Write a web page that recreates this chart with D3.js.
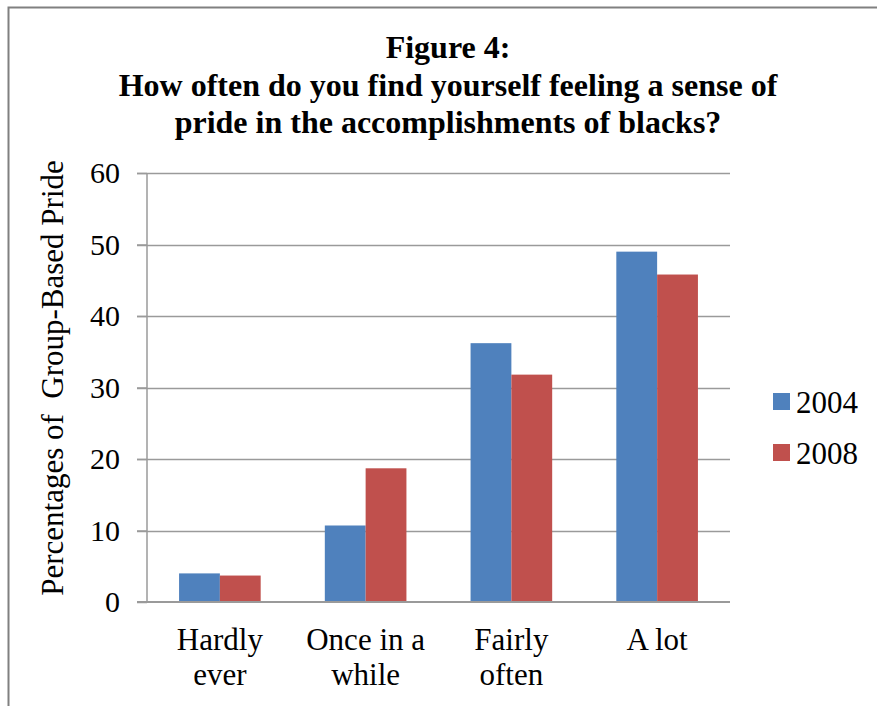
<!DOCTYPE html>
<html>
<head>
<meta charset="utf-8">
<script src="https://cdn.jsdelivr.net/npm/d3@7"></script>
<style>
  body { margin: 0; background: white; }
  svg text { font-family: "Liberation Serif", "Tinos", "Times New Roman", "DejaVu Serif", serif !important; fill: #000; }
</style>
</head>
<body>
<svg width="877" height="706"></svg>
<script>
// data
var categories = [["Hardly", "ever"], ["Once in a", "while"], ["Fairly", "often"], ["A lot"]];
var series = ["2004", "2008"];
var values2004 = [4.0, 10.7, 36.2, 49.0];
var values2008 = [3.7, 18.7, 31.8, 45.8];
var yTicks = [0, 10, 20, 30, 40, 50, 60];
var colors = ["#4F81BD", "#C0504D"];

var serif = '"Liberation Serif", "Tinos", "Times New Roman", "DejaVu Serif", serif';

var svg = d3.select("svg")
        .attr("font-family", serif),
    width = +svg.attr("width"),
    height = +svg.attr("height");

// outer frame (runs off the right and bottom edges)
svg.append("path")
    .attr("d", "M8.5,720 L8.5,7.5 L890,7.5")
    .style("fill", "none")
    .style("stroke", "#808080")
    .style("stroke-width", 2);

// title
var titleLines = ["Figure 4:", "How often do you find yourself feeling a sense of", "pride in the accomplishments of blacks?"];
svg.append("g").selectAll("text")
    .data(titleLines).enter()
    .append("text")
    .attr("x", 448)
    .attr("y", function(d, i) { return 58 + i * 37.5; })
    .attr("text-anchor", "middle")
    .attr("font-size", 32)
    .attr("font-weight", "bold")
    .text(function(d) { return d; });

var plot = {left: 147, right: 730, top: 173, bottom: 602};

var x0 = d3.scaleBand()
    .domain(d3.range(categories.length))
    .range([plot.left, plot.right])
    .paddingInner(0.44)
    .paddingOuter(0.22);

var x1 = d3.scaleBand()
    .domain(series)
    .range([0, x0.bandwidth()]);

var y = d3.scaleLinear()
    .domain([0, 60])
    .range([plot.bottom, plot.top]);

// gridlines
svg.append("g").selectAll("line")
    .data(yTicks.filter(function(d) { return d > 0; })).enter()
    .append("line")
    .attr("x1", plot.left - 10)
    .attr("x2", plot.right)
    .attr("y1", function(d) { return Math.round(y(d)) + 0.5; })
    .attr("y2", function(d) { return Math.round(y(d)) + 0.5; })
    .style("stroke", "#9A9A9A")
    .style("stroke-width", 1.5);

// bars
var rows = categories.map(function(c, i) {
    return [values2004[i], values2008[i]];
});

var groups = svg.append("g").selectAll("g")
    .data(rows).enter()
    .append("g")
    .attr("transform", function(d, i) { return "translate(" + x0(i) + ",0)"; });

groups.selectAll("rect")
    .data(function(d) { return d.map(function(v, j) { return {s: series[j], v: v, j: j}; }); })
    .enter()
    .append("rect")
    .attr("x", function(d) { return x1(d.s); })
    .attr("width", x1.bandwidth())
    .attr("y", function(d) { return y(d.v); })
    .attr("height", function(d) { return y(0) - y(d.v); })
    .style("fill", function(d) { return colors[d.j]; });

// y axis
var yAxis = d3.axisLeft(y)
    .tickValues(yTicks)
    .tickSize(10)
    .tickPadding(17);

var ya = svg.append("g")
    .attr("transform", "translate(" + plot.left + ",0)")
    .call(yAxis)
    .attr("font-family", serif);
ya.select(".domain").style("stroke", "#9A9A9A").style("stroke-width", 1.5)
    .attr("d", "M0," + plot.top + "V" + plot.bottom);
ya.selectAll(".tick line").style("stroke", "#9A9A9A").style("stroke-width", 1.5);
ya.selectAll(".tick text")
    .attr("font-size", 30)
    .style("fill", "#000")
    .attr("dy", "0.33em");

// baseline
svg.append("line")
    .attr("x1", plot.left - 10)
    .attr("x2", plot.right)
    .attr("y1", y(0))
    .attr("y2", y(0))
    .style("stroke", "#9A9A9A")
    .style("stroke-width", 2);

// category labels
var xl = svg.append("g").selectAll("text")
    .data(categories).enter()
    .append("text")
    .attr("text-anchor", "middle")
    .attr("font-size", 31)
    .attr("transform", function(d, i) {
        return "translate(" + (x0(i) + x0.bandwidth() / 2) + "," + 650 + ")";
    });
xl.selectAll("tspan")
    .data(function(d) { return d; }).enter()
    .append("tspan")
    .attr("x", 0)
    .attr("y", function(d, i) { return i * 35; })
    .text(function(d) { return d; });

// y axis title
svg.append("text")
    .attr("transform", "translate(63," + 378 + ") rotate(-90)")
    .attr("text-anchor", "middle")
    .attr("font-size", 31)
    .attr("xml:space", "preserve")
    .style("white-space", "pre")
    .text("Percentages of  Group-Based Pride");

// legend
var legend = svg.append("g").selectAll("g")
    .data(series).enter()
    .append("g")
    .attr("transform", function(d, i) { return "translate(773," + (393 + i * 51) + ")"; });
legend.append("rect")
    .attr("width", 17)
    .attr("height", 17)
    .style("fill", function(d, i) { return colors[i]; });
legend.append("text")
    .attr("x", 23)
    .attr("y", 20)
    .attr("font-size", 31)
    .text(function(d) { return d; });
</script>
</body>
</html>
